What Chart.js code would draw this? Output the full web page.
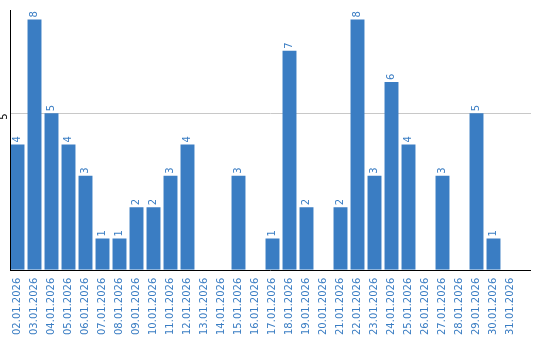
<!DOCTYPE html>
<html>
<head>
<meta charset="utf-8">
<script src="https://cdn.jsdelivr.net/npm/chart.js@4.4.1/dist/chart.umd.min.js"></script>
<style>
html,body{margin:0;padding:0;background:#fff;}
#wrap{width:540px;height:340px;}
</style>
</head>
<body>
<div id="wrap"><canvas id="c" width="540" height="340"></canvas></div>
<script>
const categories = ["02.01.2026","03.01.2026","04.01.2026","05.01.2026","06.01.2026","07.01.2026","08.01.2026","09.01.2026","10.01.2026","11.01.2026","12.01.2026","13.01.2026","14.01.2026","15.01.2026","16.01.2026","17.01.2026","18.01.2026","19.01.2026","20.01.2026","21.01.2026","22.01.2026","23.01.2026","24.01.2026","25.01.2026","26.01.2026","27.01.2026","28.01.2026","29.01.2026","30.01.2026","31.01.2026"];
const values = [4,8,5,4,3,1,1,2,2,3,4,0,0,3,0,1,7,2,0,2,8,3,6,4,0,3,0,5,1,0];
const yTicks = [5];

const BLUE = '#3a7dc3';
const FONT = '10px "DejaVu Sans"';
const AXIS_X = 10;     // y axis line position
const AXIS_END = 531;  // where axis and grid lines end

const linesPlugin = {
  id: 'axisLines',
  beforeDatasetsDraw(chart) {
    const ctx = chart.ctx;
    const ys = chart.scales.y;
    ctx.save();
    ctx.lineWidth = 1;
    ctx.strokeStyle = '#c8c8c8';
    yTicks.forEach(t => {
      const py = Math.round(ys.getPixelForValue(t)) + 0.5;
      ctx.beginPath();
      ctx.moveTo(AXIS_X, py);
      ctx.lineTo(AXIS_END, py);
      ctx.stroke();
    });
    ctx.restore();
  },
  afterDatasetsDraw(chart) {
    const ctx = chart.ctx;
    const ca = chart.chartArea;
    const meta = chart.getDatasetMeta(0);
    ctx.save();
    ctx.strokeStyle = '#000';
    ctx.lineWidth = 1;
    const by = Math.round(ca.bottom) + 0.5;
    ctx.beginPath();
    ctx.moveTo(AXIS_X + 0.5, ca.top);
    ctx.lineTo(AXIS_X + 0.5, by);
    ctx.stroke();
    ctx.beginPath();
    ctx.moveTo(AXIS_X, by);
    ctx.lineTo(AXIS_END, by);
    ctx.stroke();
    ctx.font = FONT;
    ctx.fillStyle = BLUE;
    ctx.textAlign = 'left';
    ctx.textBaseline = 'middle';
    meta.data.forEach((bar, i) => {
      const v = values[i];
      if (!v) return;
      ctx.save();
      ctx.translate(bar.x, bar.y - 2);
      ctx.rotate(-Math.PI / 2);
      ctx.fillText(String(v), 0, 0);
      ctx.restore();
    });
    const ys = chart.scales.y;
    ctx.fillStyle = '#000';
    ctx.textAlign = 'right';
    yTicks.forEach(t => {
      const py = ys.getPixelForValue(t);
      ctx.save();
      ctx.translate(4, py);
      ctx.rotate(-Math.PI / 2);
      ctx.fillText(String(t), 0, 0);
      ctx.restore();
    });
    ctx.restore();
  }
};

new Chart(document.getElementById('c'), {
  type: 'bar',
  data: {
    labels: categories,
    datasets: [{
      data: values,
      backgroundColor: BLUE,
      borderWidth: 0,
      categoryPercentage: 1.0,
      barPercentage: 0.82
    }]
  },
  options: {
    responsive: false,
    animation: false,
    devicePixelRatio: 1,
    layout: { padding: { left: 0, right: 21, top: 10, bottom: 0 } },
    plugins: { legend: { display: false }, tooltip: { enabled: false } },
    scales: {
      x: {
        afterFit(scale) { scale.height -= 3; },
        grid: { display: false, drawTicks: false },
        border: { display: false },
        ticks: {
          autoSkip: false,
          minRotation: 90,
          maxRotation: 90,
          padding: 8,
          color: BLUE,
          font: { family: 'DejaVu Sans', size: 10 }
        }
      },
      y: {
        min: 0,
        max: 8.3,
        afterBuildTicks(scale) { scale.ticks = yTicks.map(v => ({ value: v })); },
        afterFit(scale) { scale.width = 9; },
        grid: { display: false, drawTicks: false },
        border: { display: false },
        ticks: { display: false }
      }
    }
  },
  plugins: [linesPlugin]
});
</script>
</body>
</html>
